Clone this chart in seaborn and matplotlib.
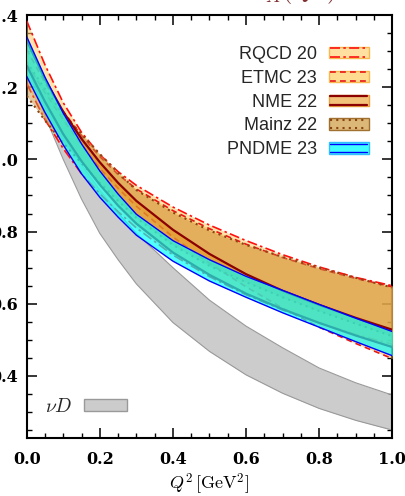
import numpy as np
import pandas as pd
import seaborn as sns
import matplotlib.pyplot as plt
from matplotlib.patches import Rectangle
from matplotlib.lines import Line2D
from matplotlib.legend_handler import HandlerBase
from matplotlib.ticker import MultipleLocator, FormatStrFormatter

# ---- data ----
q2 = [0.0, 0.05, 0.1, 0.15, 0.2, 0.25, 0.3, 0.4, 0.5, 0.6, 0.7, 0.8, 0.9, 1.0]

nuD_hi = [1.27, 1.16, 1.067, 0.985, 0.915, 0.852, 0.795, 0.70, 0.61, 0.538, 0.478, 0.422, 0.381, 0.347]
nuD_lo = [1.27, 1.12, 1.0, 0.89, 0.795, 0.722, 0.655, 0.548, 0.468, 0.403, 0.352, 0.31, 0.277, 0.25]

rqcd_hi = [1.384, 1.262, 1.157, 1.075, 1.013, 0.966, 0.928, 0.868, 0.818, 0.775, 0.736, 0.702, 0.673, 0.65]
rqcd_lo = [1.21, 1.11, 1.03, 0.96, 0.905, 0.855, 0.81, 0.735, 0.675, 0.625, 0.583, 0.547, 0.515, 0.488]

etmc_hi = [1.305, 1.212, 1.133, 1.066, 1.008, 0.958, 0.918, 0.858, 0.808, 0.765, 0.728, 0.697, 0.67, 0.647]
etmc_lo = [1.265, 1.185, 1.11, 1.04, 0.975, 0.92, 0.87, 0.785, 0.712, 0.647, 0.588, 0.535, 0.49, 0.448]

nme_hi = [1.33, 1.222, 1.132, 1.057, 0.992, 0.935, 0.885, 0.805, 0.738, 0.682, 0.636, 0.597, 0.561, 0.528]
nme_lo = [1.26, 1.16, 1.07, 0.995, 0.93, 0.872, 0.822, 0.742, 0.68, 0.628, 0.585, 0.547, 0.512, 0.48]

mainz_hi = [1.27, 1.195, 1.125, 1.07, 1.015, 0.963, 0.915, 0.853, 0.803, 0.763, 0.73, 0.70, 0.672, 0.645]
mainz_lo = [1.176, 1.108, 1.045, 0.99, 0.935, 0.885, 0.838, 0.763, 0.705, 0.66, 0.618, 0.58, 0.545, 0.51]

pndme_hi = [1.34, 1.228, 1.128, 1.043, 0.968, 0.904, 0.848, 0.775, 0.722, 0.676, 0.637, 0.598, 0.56, 0.523]
pndme_lo = [1.23, 1.13, 1.04, 0.96, 0.895, 0.84, 0.79, 0.718, 0.663, 0.618, 0.575, 0.535, 0.495, 0.456]

# ---- styles ----
bands = [
    # label, hi, lo, fill, alpha, line color, linestyle, lw, edge of legend box
    ('RQCD 20', rqcd_hi, rqcd_lo, '#ffcc66', 0.55, '#ff1010', (0, (6, 2, 1.5, 2)), 1.2, '#f7b850'),
    ('ETMC 23', etmc_hi, etmc_lo, '#ffb444', 0.5, '#e81818', (0, (3.5, 2.5)), 1.2, '#f7b850'),
    ('Mainz 22', mainz_hi, mainz_lo, '#c89444', 0.5, '#8b4513', (0, (1, 2)), 1.5, '#a07030'),
    ('NME 22', nme_hi, nme_lo, '#e8961e', 0.55, '#8b0000', '-', 1.6, '#e8a040'),
    ('PNDME 23', pndme_hi, pndme_lo, '#00ffff', 0.68, '#0000ff', '-', 1.0, '#30c0ff'),
]
legend_order = ['RQCD 20', 'ETMC 23', 'NME 22', 'Mainz 22', 'PNDME 23']
legend_fill = {'RQCD 20': '#ffe0a0', 'ETMC 23': '#ffdc90', 'NME 22': '#f3c27a',
               'Mainz 22': '#dcb878', 'PNDME 23': '#40ffff'}

sns.set_theme(style='ticks')
plt.rcParams['mathtext.fontset'] = 'cm'
plt.rcParams['font.family'] = ['Liberation Sans', 'DejaVu Sans']

fig = plt.figure(figsize=(4.05, 4.96), dpi=100)
ax = fig.add_axes([0.0659, 0.1169, 0.9027, 0.8528])

# nu D band
ax.fill_between(q2, nuD_lo, nuD_hi, color='#cccccc', lw=0, zorder=1)
nud_df = pd.DataFrame({'q2': q2 * 2, 'v': nuD_hi + nuD_lo,
                       'edge': ['hi'] * len(q2) + ['lo'] * len(q2)})
sns.lineplot(data=nud_df, x='q2', y='v', units='edge', estimator=None,
             color='#999999', lw=0.8, ax=ax, zorder=2)

z = 3
for lab, hi, lo, fc, al, lc, ls, lw, ec in bands:
    ax.fill_between(q2, lo, hi, color=fc, alpha=al, lw=0, zorder=z)
    df = pd.DataFrame({'q2': q2 * 2, 'v': hi + lo,
                       'edge': ['hi'] * len(q2) + ['lo'] * len(q2)})
    sns.lineplot(data=df, x='q2', y='v', units='edge', estimator=None,
                 color=lc, lw=lw, linestyle=ls, ax=ax, zorder=z + 1)
    z += 2

ax.set_xlim(0, 1.0)
ax.set_ylim(0.228, 1.40)
ax.xaxis.set_major_locator(MultipleLocator(0.2))
ax.xaxis.set_minor_locator(MultipleLocator(0.05))
ax.yaxis.set_major_locator(MultipleLocator(0.2))
ax.yaxis.set_minor_locator(MultipleLocator(0.05))
ax.xaxis.set_major_formatter(FormatStrFormatter('%.1f'))
ax.yaxis.set_major_formatter(FormatStrFormatter('%.1f'))
ax.tick_params(which='both', direction='in', top=True, right=True, color='black')
ax.tick_params(which='major', length=7, width=1.1, labelsize=11.5, labelcolor='black')
ax.tick_params(which='minor', length=3.5, width=1.0)
ax.tick_params(axis='y', which='major', pad=6)
ax.tick_params(axis='x', which='major', pad=9)
for lab in ax.get_xticklabels() + ax.get_yticklabels():
    lab.set_fontfamily('DejaVu Serif')
    lab.set_fontweight('bold')
for s in ax.spines.values():
    s.set_linewidth(1.5)
    s.set_color('black')
ax.set_xlabel(r'$Q^2\,[\mathrm{GeV}^2]$', fontsize=13, labelpad=3, color='black')
ax.set_ylabel('')

# partly cut off title at the very top
fig.text(0.718, 1.004, r'$G_A(Q^2)$', fontsize=19, color='#803030',
         ha='center', va='baseline')


class BandHandler(HandlerBase):
    def __init__(self, fc, ec, lc, ls, lw):
        super().__init__()
        self.fc, self.ec, self.lc, self.ls, self.lw = fc, ec, lc, ls, lw

    def create_artists(self, legend, orig_handle, xdescent, ydescent,
                       width, height, fontsize, trans):
        x0, y0 = -xdescent, -ydescent
        r = Rectangle((x0, y0), width, height, facecolor=self.fc,
                      edgecolor=self.ec, lw=1.0, transform=trans)
        arts = [r]
        if self.lc is not None:
            for yy in (y0 + height * 0.12, y0 + height * 0.88):
                arts.append(Line2D([x0 + 1, x0 + width - 1], [yy, yy], color=self.lc,
                                   lw=self.lw, linestyle=self.ls, transform=trans))
        return arts


style = {b[0]: b for b in bands}
handles, hmap = [], {}
for lab in legend_order:
    _, hi, lo, fc, al, lc, ls, lw, ec = style[lab]
    h = Rectangle((0, 0), 1, 1)
    handles.append(h)
    hmap[h] = BandHandler(legend_fill[lab], ec, lc, ls, lw)

leg = ax.legend(handles, legend_order, handler_map=hmap, loc='upper right',
                bbox_to_anchor=(0.935, 0.927), frameon=False, markerfirst=False,
                fontsize=13, handlelength=2.2, handleheight=0.6,
                handletextpad=0.65, labelspacing=0.38, borderpad=0, borderaxespad=0)
ax.add_artist(leg)

hnud = Rectangle((0, 0), 1, 1)
leg2 = ax.legend([hnud], [r'$\nu D$'],
                 handler_map={hnud: BandHandler('#cccccc', '#999999', None, '-', 1)},
                 loc='lower left', bbox_to_anchor=(0.05, 0.052), frameon=False,
                 markerfirst=False, fontsize=14, handlelength=2.2, handleheight=0.6,
                 handletextpad=0.6, borderpad=0, borderaxespad=0)

fig.savefig('out.png', dpi=100)
